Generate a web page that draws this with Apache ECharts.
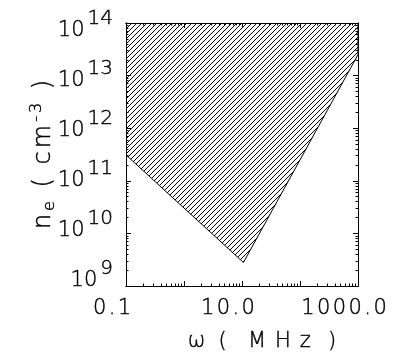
<!DOCTYPE html>
<html>
<head>
<meta charset="utf-8">
<script src="https://cdn.jsdelivr.net/npm/echarts@6/dist/echarts.min.js"></script>
<style>
  html, body { margin: 0; padding: 0; background: #fff; }
  #chart { width: 403px; height: 352px; }
</style>
</head>
<body>
<div id="chart"></div>
<script>
// axis ticks (log scales)
const xMajor = [0.1, 1, 10, 100, 1000]
const xLabelValues = [0.1, 10, 1000]
const xLabelText = ['0.1', '10.0', '1000.0']
const yMajor = [1e9, 1e10, 1e11, 1e12, 1e13, 1e14]
const yExponents = ['9', '10', '11', '12', '13', '14']
const minorSteps = [2, 3, 4, 5, 6, 7, 8, 9]

// hatched region outline: omega (MHz) vs electron density (cm^-3)
const regionOmega = [0.1, 10.6, 1000, 1000, 0.1]
const regionDensity = [3.1e11, 2.8e9, 2.5e13, 1e14, 1e14]

// the original's y labels sit a little closer together than their ticks
const yLabelShift = [-5, -2.5, 0, 2.5, 5, 7.5]

const minorOf = majors => majors.slice(0, -1).flatMap(d => minorSteps.map(m => m * d))
const decade = v => Math.round(Math.log10(v))
// one rich token per character so the wide letter spacing of the original can be kept
const spread = (text, style) => Array.from(text).map(ch => '{' + style + '|' + ch + '}').join('')

const FONT = 'DejaVu Sans'
const WEIGHT = 200

// 45 degree hatch tile, 1px lines
const hatch = document.createElement('canvas')
hatch.width = 5
hatch.height = 5
const hctx = hatch.getContext('2d')
hctx.fillStyle = '#000'
for (let i = 0; i < 5; i++) hctx.fillRect(i, 4 - i, 1, 1)

const chart = echarts.init(document.getElementById('chart'))

const txt = (size, extra) => Object.assign({
  fontFamily: FONT, fontWeight: WEIGHT, fontSize: size, lineHeight: size, color: '#000',
  textBorderColor: '#000', textBorderWidth: 0.4, verticalAlign: 'middle'
}, extra || {})

// per-label styles for 10^n: base "10" (b) and exponent (s) raised 12px,
// boxes kept as small as the shift allows so no label gets hidden
const yRich = {}
yLabelShift.forEach((d, i) => {
  const h = Math.max(22 - d, 10 + d) * 2
  yRich['b' + i] = txt(21, { lineHeight: 20, padding: [Math.max(0, 2 * d), 0, Math.max(0, -2 * d), 0] })
  yRich['s' + i] = txt(20, { lineHeight: 20, padding: [(h + 2 * d - 44) / 2, 0, (h - 2 * d + 4) / 2, 3] })
})

function yLabel(v) {
  const i = yMajor.findIndex(t => decade(t) === decade(v))
  return '{b' + i + '|10}{s' + i + '|' + yExponents[i] + '}'
}

function frameAxis(kind, position, ticks, length, extra) {
  const isX = kind === 'x'
  return Object.assign({
    type: 'log',
    logBase: 10,
    position: position,
    min: isX ? 0.1 : 1e9,
    max: isX ? 1000 : 1e14,
    axisLine: { show: true, onZero: false, lineStyle: { color: '#000', width: 1 } },
    axisTick: { show: true, inside: true, length: length, customValues: ticks, lineStyle: { color: '#000', width: 1 } },
    axisLabel: { show: false },
    splitLine: { show: false },
    minorTick: { show: false },
    minorSplitLine: { show: false }
  }, extra || {})
}

const option = {
  animation: false,
  backgroundColor: '#fff',
  grid: { left: 126, right: 45, top: 23, bottom: 66, show: false, containLabel: false, outerBoundsMode: 'none' },
  xAxis: [
    frameAxis('x', 'bottom', xMajor, 5, {
      axisLabel: {
        show: true,
        customValues: xLabelValues,
        interval: 0,
        showMinLabel: true,
        showMaxLabel: true,
        hideOverlap: false,
        margin: 12,
        padding: [0, 28, 0, 0],
        formatter: v => spread(xLabelText[xLabelValues.findIndex(t => decade(t) === decade(v))], 'd'),
        rich: { d: txt(21, { padding: [0, 1.2, 0, 1.2] }) }
      },
      name: '{w|ω}{s1| }{t|(}{s2| }' + spread('MHz', 'm') + '{s3| }{t|)}',
      nameLocation: 'middle',
      nameGap: 45,
      nameMoveOverlap: false,
      nameTextStyle: {
        padding: [0, 0, 0, 40],
        rich: {
          w: txt(21, { padding: [0, 2, 0, 2] }),
          t: txt(21, { padding: [0, 2, 0, 2] }),
          m: txt(21, { padding: [0, 4.5, 0, 4.5] }),
          s1: txt(21, { padding: [0, 1.25, 0, 1.25] }),
          s2: txt(21, { padding: [0, 4, 0, 4] }),
          s3: txt(21, { padding: [0, 2, 0, 2] })
        }
      }
    }),
    frameAxis('x', 'bottom', minorOf(xMajor), 2.5),
    frameAxis('x', 'top', xMajor, 5),
    frameAxis('x', 'top', minorOf(xMajor), 2.5)
  ],
  yAxis: [
    frameAxis('y', 'left', yMajor, 5, {
      axisLabel: {
        show: true,
        customValues: yMajor,
        interval: 0,
        showMinLabel: true,
        showMaxLabel: true,
        hideOverlap: false,
        margin: 13,
        formatter: yLabel,
        rich: yRich
      },
      name: spread('n', 't') + spread('e', 'sub') + spread(' ( cm', 't') + spread('-3', 'sup') + spread(' )', 't'),
      nameLocation: 'middle',
      nameRotate: 90,
      nameGap: 70,
      nameMoveOverlap: false,
      nameTextStyle: {
        rich: {
          t: txt(24, { padding: [0, 1.5, 0, 1.5] }),
          sub: txt(16, { padding: [11, 1.5, 0, 1.5] }),
          sup: txt(16, { padding: [0, 1.5, 15, 1.5] })
        }
      }
    }),
    frameAxis('y', 'left', minorOf(yMajor), 2.5),
    frameAxis('y', 'right', yMajor, 5),
    frameAxis('y', 'right', minorOf(yMajor), 2.5)
  ],
  series: [{
    type: 'custom',
    coordinateSystem: 'cartesian2d',
    xAxisIndex: 0,
    yAxisIndex: 0,
    silent: true,
    clip: true,
    data: regionOmega.map((w, i) => [w, regionDensity[i]]),
    renderItem: (params, api) => {
      if (params.dataIndex !== 0) return
      const points = regionOmega.map((w, i) => api.coord([w, regionDensity[i]]))
      return {
        type: 'polygon',
        shape: { points: points },
        style: { fill: { image: hatch, repeat: 'repeat' }, stroke: '#000', lineWidth: 1 }
      }
    }
  }]
}

chart.setOption(option)
</script>
</body>
</html>
